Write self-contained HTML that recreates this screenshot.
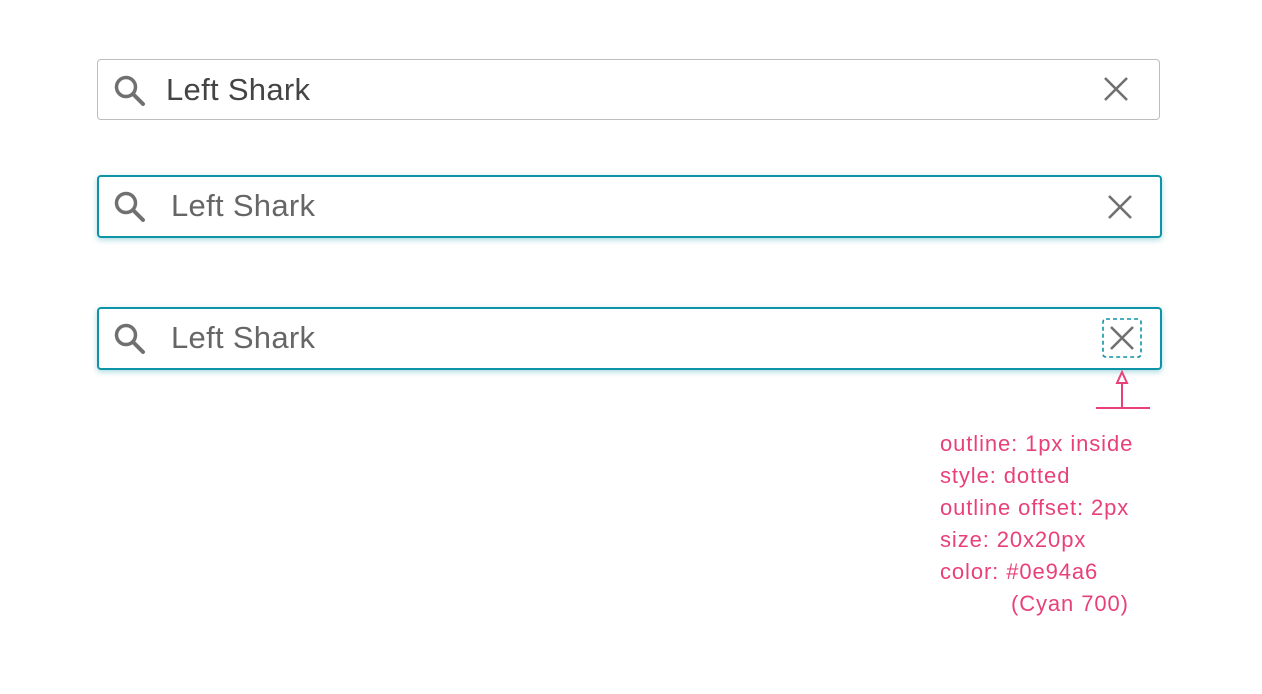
<!DOCTYPE html>
<html><head><meta charset="utf-8"><style>
body{margin:0;width:1262px;height:694px;background:#fff;position:relative;overflow:hidden;font-family:"Liberation Sans",sans-serif}
.box{position:absolute;left:97px;width:1061px;height:59px;border-radius:4px;box-sizing:content-box}
.b1{top:59px;border:1.5px solid #bdbdbd}
.b2{top:175px;border:2px solid #0e94a6;box-shadow:0 2px 6px rgba(14,148,166,.35)}
.b3{top:307px;border:2px solid #0e94a6;box-shadow:0 2px 6px rgba(14,148,166,.35)}
.txt{position:absolute;font-size:31px;line-height:30px;letter-spacing:0.3px}
.note{position:absolute;left:940px;color:#e8417a;font-size:22px;line-height:32px;top:428px;white-space:pre;letter-spacing:0.9px}
svg{position:absolute}
</style></head><body>
<div class="box b1"></div>
<div class="box b2"></div>
<div class="box b3"></div>

<svg style="left:112px;top:73px" width="36" height="36" viewBox="0 0 36 36"><circle cx="14" cy="14" r="9.5" fill="none" stroke="#707070" stroke-width="3.5"/><line x1="21" y1="21" x2="31" y2="31" stroke="#707070" stroke-width="4" stroke-linecap="round"/></svg>
<svg style="left:112px;top:189px" width="36" height="36" viewBox="0 0 36 36"><circle cx="14" cy="14" r="9.5" fill="none" stroke="#707070" stroke-width="3.5"/><line x1="21" y1="21" x2="31" y2="31" stroke="#707070" stroke-width="4" stroke-linecap="round"/></svg>
<svg style="left:112px;top:321px" width="36" height="36" viewBox="0 0 36 36"><circle cx="14" cy="14" r="9.5" fill="none" stroke="#707070" stroke-width="3.5"/><line x1="21" y1="21" x2="31" y2="31" stroke="#707070" stroke-width="4" stroke-linecap="round"/></svg>

<div class="txt" style="left:166px;top:75px;color:#444">Left Shark</div>
<div class="txt" style="left:171px;top:191px;color:#666">Left Shark</div>
<div class="txt" style="left:171px;top:323px;color:#666">Left Shark</div>

<svg style="left:1102px;top:75px" width="28" height="28"><path d="M3 3L25 25M25 3L3 25" stroke="#707070" stroke-width="2.6"/></svg>
<svg style="left:1106px;top:193px" width="28" height="28"><path d="M3 3L25 25M25 3L3 25" stroke="#707070" stroke-width="2.6"/></svg>
<svg style="left:1102px;top:318px" width="40" height="40"><rect x="1" y="1" width="38" height="38" rx="3" fill="none" stroke="#0e94a6" stroke-width="1.6" stroke-dasharray="4,3"/><path d="M9 9L31 31M31 9L9 31" stroke="#707070" stroke-width="2.6"/></svg>

<svg style="left:1090px;top:368px" width="66" height="44"><line x1="32" y1="16" x2="32" y2="40" stroke="#e8417a" stroke-width="2"/><polygon points="32,4 27,15 37,15" fill="#fff" stroke="#e8417a" stroke-width="2"/><line x1="6" y1="40" x2="60" y2="40" stroke="#e8417a" stroke-width="2"/></svg>

<div class="note">outline: 1px inside
style: dotted
outline offset: 2px
size: 20x20px
color: #0e94a6
<span style="padding-left:71px">(Cyan 700)</span></div>
</body></html>
